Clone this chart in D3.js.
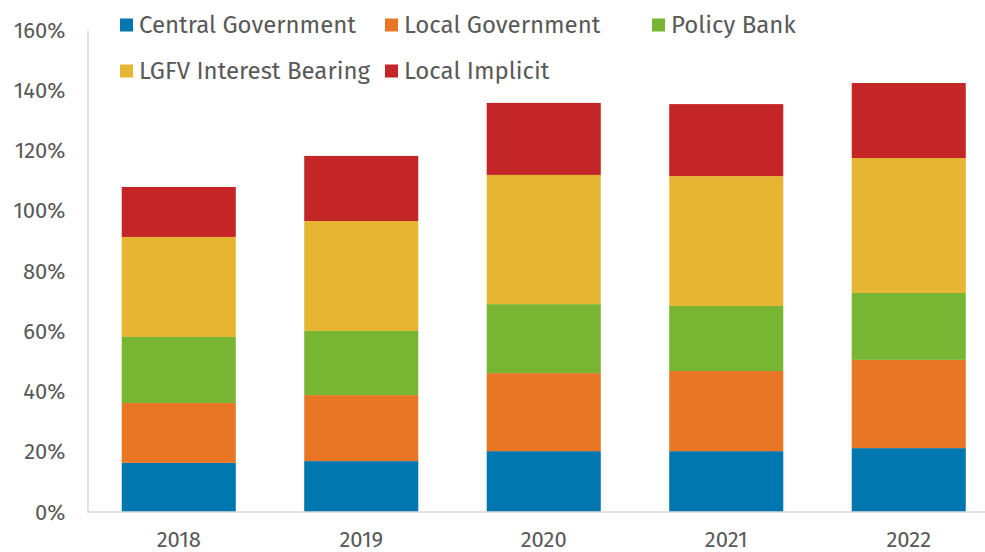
<!DOCTYPE html>
<html>
<head>
<meta charset="utf-8">
<script src="https://cdn.jsdelivr.net/npm/d3@7"></script>
<style>
  body { margin: 0; background: #fff; }
  text { font-family: "Fira Sans", Lato, "Open Sans", sans-serif; fill: #595959; }
</style>
</head>
<body>
<div id="container"></div>
<script>
/* CONSTANTS AND GLOBALS */
const width = 985,
  height = 552,
  margin = {top: 30, left: 87.5, bottom: 40, right: -15};

/* DATA */
const years = ["2018", "2019", "2020", "2021", "2022"];
const series = ["Central Government", "Local Government", "Policy Bank", "LGFV Interest Bearing", "Local Implicit"];
const colors = ["#0077ae", "#e87625", "#78b533", "#e6b531", "#c42526"];
const centralGov = [16.3, 16.9, 20.2, 20.2, 21.2];
const localGov = [19.9, 21.9, 25.9, 26.6, 29.3];
const policyBank = [21.9, 21.3, 22.9, 21.6, 22.2];
const lgfv = [33.2, 36.5, 42.9, 43.1, 44.8];
const localImplicit = [16.6, 21.6, 23.9, 23.9, 24.9];
const yTicks = [0, 20, 40, 60, 80, 100, 120, 140, 160];

const table = years.map((y, i) => ({
  year: y,
  "Central Government": centralGov[i],
  "Local Government": localGov[i],
  "Policy Bank": policyBank[i],
  "LGFV Interest Bearing": lgfv[i],
  "Local Implicit": localImplicit[i]
}));

const stacked = d3.stack().keys(series)(table);

// SCALES
const xScale = d3.scaleBand()
  .domain(years)
  .range([margin.left, 1000])
  .paddingInner(0.375)
  .paddingOuter(0.1875);

const yScale = d3.scaleLinear()
  .domain([0, 160])
  .range([height - margin.bottom, margin.top]);

const color = d3.scaleOrdinal().domain(series).range(colors);

// CREATE SVG ELEMENT
const svg = d3.select("#container")
  .append("svg")
  .attr("width", width)
  .attr("height", height);

// BARS
svg.selectAll(".layer")
  .data(stacked)
  .join("g")
  .attr("class", "layer")
  .attr("fill", d => color(d.key))
  .selectAll("rect")
  .data(d => d)
  .join("rect")
  .attr("x", d => xScale(d.data.year))
  .attr("width", xScale.bandwidth())
  .attr("y", d => yScale(d[1]))
  .attr("height", d => yScale(d[0]) - yScale(d[1]));

// AXES
const yAxis = svg.append("g")
  .attr("transform", `translate(${margin.left},0)`)
  .call(d3.axisLeft(yScale).tickValues(yTicks).tickFormat(d => d + "%").tickSize(0).tickPadding(22));
yAxis.select(".domain").attr("stroke", "#d9d9d9").attr("stroke-width", 1.5);
yAxis.selectAll("text").style("font-size", "22px").attr("fill", "#595959");

const xAxis = svg.append("g")
  .attr("transform", `translate(0,${yScale(0)})`)
  .call(d3.axisBottom(xScale).tickSize(0).tickPadding(19));
xAxis.select(".domain").attr("d", `M${margin.left},0H${width}`).attr("stroke", "#d9d9d9").attr("stroke-width", 1.5);
xAxis.selectAll("text").style("font-size", "22px").attr("fill", "#595959");

// LEGEND
const legendPos = [[120, 25], [385, 25], [652, 25], [120, 71], [385, 71]];
const legend = svg.selectAll(".legend")
  .data(series)
  .join("g")
  .attr("class", "legend")
  .attr("transform", (d, i) => `translate(${legendPos[i][0]},${legendPos[i][1]})`);

legend.append("rect")
  .attr("x", 0)
  .attr("y", -6.5)
  .attr("width", 13)
  .attr("height", 13)
  .attr("fill", d => color(d));

legend.append("text")
  .attr("x", 19)
  .attr("y", 0)
  .attr("dy", "0.35em")
  .style("font-size", "24px")
  .text(d => d);
</script>
</body>
</html>
